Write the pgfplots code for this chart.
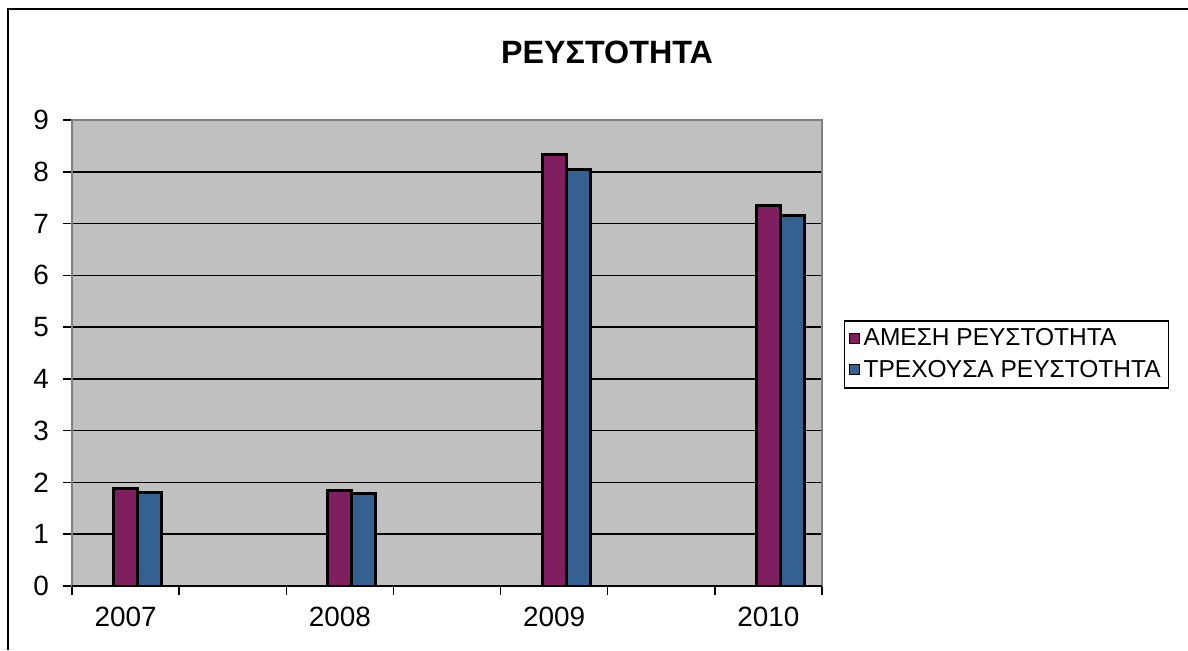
\documentclass[border=0pt]{standalone}
\usepackage{fontspec}
\setmainfont{Liberation Sans}
\usepackage{pgfplots}
\pgfplotsset{compat=1.18}
\definecolor{amesi}{HTML}{7F1F5F}
\definecolor{trexousa}{HTML}{356092}
\definecolor{plotbg}{HTML}{C0C0C0}
\definecolor{framegray}{HTML}{808080}

\begin{document}
\begin{tikzpicture}[x=1bp,y=1bp]
\useasboundingbox (-36,-32) rectangle (558,293);
% outer chart frame (only left and top visible)
\draw[black, line width=0.8bp] (-32,-32) -- (-32,288.5) -- (558,288.5);
\node[font=\fontsize{16.2}{19}\selectfont\bfseries] at (267.5,267) {ΡΕΥΣΤΟΤΗΤΑ};
\begin{axis}[
    at={(0,0)}, anchor=south west,
    scale only axis, width=375bp, height=233bp,
    xmin=0, xmax=7, ymin=0, ymax=9,
    axis background/.style={fill=plotbg},
    axis line style={framegray, line width=1.3bp},
    ymajorgrids, grid style={black, line width=0.75bp},
    ytick={0,...,9},
    yticklabel style={xshift=-3.5bp},
    xtick={0,...,7}, xticklabels={},
    extra x ticks={0.5,2.5,4.5,6.5},
    extra x tick labels={2007,2008,2009,2010},
    extra x tick style={major tick length=0pt, grid=none,
        xticklabel style={yshift=-7bp}},
    xtick pos=bottom, ytick pos=left,
    tick align=outside, major tick length=4.5bp,
    tick style={black, line width=0.75bp},
    ticklabel style={font=\fontsize{14}{16}\selectfont},
    /pgf/number format/assume math mode=true,
    legend style={at={(1.0293,0.497)}, anchor=west, draw=black,
        line width=0.7bp, font=\fontsize{12.3}{14}\selectfont,
        row sep=1.5bp, inner sep=2bp},
    legend cell align=left,
    legend image code/.code={\draw[#1, draw=black, line width=0.5bp] (0bp,-2.5bp) rectangle (5bp,2.5bp);},
]
\addplot[ybar, bar width=0.224, bar shift=0pt, fill=amesi, draw=black, line width=1.5bp]
    coordinates {(0.5,1.89) (2.5,1.85) (4.5,8.34) (6.5,7.34)};
\addlegendentry{ΑΜΕΣΗ ΡΕΥΣΤΟΤΗΤΑ}
\addplot[ybar, bar width=0.224, bar shift=0pt, fill=trexousa, draw=black, line width=1.5bp]
    coordinates {(0.724,1.80) (2.724,1.78) (4.724,8.05) (6.724,7.16)};
\addlegendentry{ΤΡΕΧΟΥΣΑ ΡΕΥΣΤΟΤΗΤΑ}
\draw[black, line width=1bp] (axis cs:0,0) -- (axis cs:7,0);
\end{axis}
\end{tikzpicture}
\end{document}
